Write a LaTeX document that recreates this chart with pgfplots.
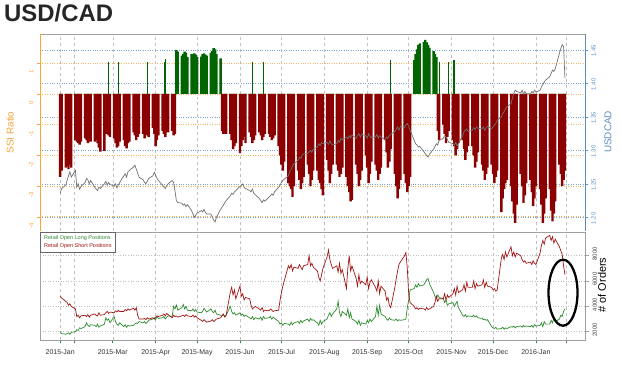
\documentclass[border=0pt]{standalone}
\usepackage{fontspec}
\setmainfont{Liberation Sans}
\usepackage{pgfplots}
\usepackage{pgfplotstable}
\pgfplotsset{compat=1.18}

\definecolor{ssired}{HTML}{8B0000}
\definecolor{ssigreen}{HTML}{006400}
\definecolor{ssiorange}{HTML}{F7A43A}
\definecolor{cadblue}{HTML}{5B8DC4}
\definecolor{shortred}{HTML}{A31515}
\definecolor{longgreen}{HTML}{2E8B2E}
\definecolor{gridgray}{HTML}{C0C0C0}
\definecolor{framegray}{HTML}{A0A0A0}
\definecolor{titlecol}{HTML}{262626}
\definecolor{cadline}{HTML}{707070}

% d = day (0 = 2015-01-01), r = SSI (short side), g = SSI (long side), u = USDCAD, l = long orders, s = short orders
\pgfplotstableread{
d r g u l s
21 -2.70 0 1.236 2000 4800
22 -2.50 0 1.243 1850 4660
25 -2.40 0 1.248 1800 4400
26 -2.35 0 1.255 1850 4300
27 -2.45 0 1.262 1900 4100
28 -2.30 0 1.268 1800 4200
29 -2.40 0 1.260 1950 4000
32 -1.50 0 1.270 2000 3800
33 -1.55 0 1.245 2150 3200
34 -1.60 0 1.250 2100 3300
35 -1.65 0 1.242 2300 3100
36 -1.55 0 1.246 2250 3250
39 -1.45 0 1.252 2400 3300
40 -1.50 0 1.258 2700 3200
41 -1.60 0 1.256 2500 3350
42 -1.45 0 1.250 2400 3150
43 -1.55 0 1.255 2550 3300
46 -1.55 0 1.245 2500 3400
47 -1.50 0 1.242 2400 3300
48 -1.60 0 1.240 2600 3250
49 -1.75 0 1.245 2350 3500
50 -1.88 0 1.243 2450 3300
53 -1.85 0 1.250 2600 3350
54 -1.30 0 1.254 3100 3500
55 -1.25 0 1.248 2900 3600
56 -1.35 0 1.252 3000 3450
57 -1.40 0 1.249 2700 3550
60 -1.45 0 1.247 3200 3500
61 -1.60 0 1.250 2800 3650
62 -1.75 0 1.244 2600 3550
63 -1.70 0 1.248 2500 3700
64 -1.55 0 1.252 2700 3600
67 -1.50 0 1.262 2400 3600
68 -1.70 0 1.265 2550 3750
69 -1.77 0 1.260 2350 3650
70 -1.60 0 1.268 2500 3800
71 -1.55 0 1.270 2450 3700
74 -1.25 0 1.275 2500 3850
75 -1.35 0 1.278 2600 3700
76 -1.50 0 1.272 2700 3900
77 -1.40 0 1.266 2650 3300
78 -1.30 0 1.260 2800 3000
81 -1.30 0 1.256 2700 3000
82 -1.45 0 1.252 2800 3050
83 -1.35 0 1.250 2650 2950
84 -1.20 0 1.254 2750 3100
85 -1.40 0 1.258 2900 3000
88 -1.10 0 1.262 3000 3100
89 -1.30 0 1.267 3100 3000
90 -1.70 0 1.263 2950 3150
91 -1.50 0 1.258 3200 3250
92 -1.35 0 1.255 3050 3200
95 -1.20 0 1.248 3100 3300
96 -1.30 0 1.245 3200 3400
97 -1.40 0 1.243 3000 3250
98 -1.10 0 1.247 3150 3450
99 -1.25 0 1.250 3250 3350
102 -1.20 0 1.255 3200 3100
103 -1.35 0 1.252 4000 3300
104 -1.30 0 1.240 3800 3200
105 0 1.43 1.225 4100 3250
106 0 1.38 1.222 3700 3150
109 0 1.25 1.221 3900 3250
110 0 1.30 1.218 4150 3300
111 0 1.38 1.220 3800 3200
112 0 1.35 1.216 4000 3350
113 0 1.20 1.219 3700 3250
116 0 1.30 1.210 3650 3200
117 0 1.25 1.205 3800 3300
118 0 1.32 1.200 3600 3150
119 0 1.28 1.203 3750 3250
120 0 1.20 1.206 3550 3100
123 0 1.22 1.210 3500 2900
124 0 1.30 1.208 3600 2800
125 0 1.32 1.212 3850 2950
126 0 1.28 1.207 3700 2850
127 0 1.25 1.205 3550 2750
130 0 1.35 1.205 3800 2850
131 0 1.40 1.200 3600 2950
132 0 1.49 1.196 3500 2800
133 0 1.45 1.193 3700 2900
134 0 1.30 1.200 3400 3000
137 0 1.16 1.212 3300 3100
138 -1.20 0 1.215 3250 3250
139 -1.30 0 1.218 3350 3400
140 -1.25 0 1.222 3200 3150
141 -1.30 0 1.225 3300 3300
144 -1.30 0 1.232 4000 5100
145 -1.50 0 1.236 3600 5500
146 -1.80 0 1.234 3400 4900
147 -1.70 0 1.238 3500 5300
148 -1.60 0 1.240 3300 4600
151 -1.93 0 1.246 3500 5600
152 -1.70 0 1.248 3300 4800
153 -1.50 0 1.250 3400 5000
154 -1.40 0 1.245 3200 4500
155 -1.60 0 1.243 3300 4700
158 -1.25 0 1.240 3100 4600
159 -1.40 0 1.238 3000 4100
160 -1.60 0 1.242 3200 3800
161 -1.50 0 1.236 2950 3900
162 -1.35 0 1.234 3100 4000
165 -1.25 0 1.228 3000 3800
166 -1.35 0 1.225 3150 3700
167 -1.50 0 1.222 2900 3900
168 -1.40 0 1.226 3200 3600
169 -1.30 0 1.224 3050 3700
172 -1.30 0 1.230 3100 3650
173 -1.40 0 1.232 3200 3800
174 -1.50 0 1.235 3000 3700
175 -1.45 0 1.233 3150 3600
176 -1.35 0 1.238 3050 3650
179 -1.70 0 1.245 2800 3700
180 -2.00 0 1.248 2600 4500
181 -2.30 0 1.252 2700 5100
182 -2.50 0 1.255 2500 5600
183 -2.20 0 1.257 2650 6000
186 -2.90 0 1.262 2600 7200
187 -3.00 0 1.268 2500 7000
188 -3.10 0 1.272 2750 7300
189 -3.35 0 1.276 2550 6800
190 -3.00 0 1.280 2700 7100
193 -2.50 0 1.285 2800 7000
194 -2.80 0 1.290 2650 7300
195 -3.10 0 1.288 2900 7100
196 -2.90 0 1.293 2700 6900
197 -2.70 0 1.295 2850 7200
200 -2.30 0 1.295 3000 7300
201 -2.60 0 1.298 2800 8000
202 -3.00 0 1.300 3050 7200
203 -2.80 0 1.297 2900 7400
204 -2.50 0 1.302 2950 7100
207 -2.50 0 1.305 2700 6800
208 -2.80 0 1.310 2500 6300
209 -2.90 0 1.307 2900 6000
210 -3.10 0 1.312 2600 6500
211 -3.30 0 1.310 2800 7000
214 -2.15 0 1.312 3000 7900
215 -2.50 0 1.309 3300 8450
216 -2.90 0 1.314 3500 7700
217 -2.60 0 1.310 3200 7300
218 -2.30 0 1.308 3400 7000
221 -2.30 0 1.310 3800 7200
222 -2.50 0 1.315 4400 6700
223 -2.70 0 1.312 3500 7400
224 -2.60 0 1.318 3200 6600
225 -2.40 0 1.316 3600 6900
228 -2.70 0 1.320 3300 5400
229 -3.00 0 1.317 3800 7000
230 -3.20 0 1.322 3100 8000
231 -3.50 0 1.319 3500 6800
232 -3.45 0 1.323 3000 7200
235 -2.30 0 1.318 2800 6200
236 -2.60 0 1.322 2600 5600
237 -3.00 0 1.325 2900 6500
238 -2.80 0 1.320 2500 5800
239 -2.50 0 1.324 2700 6000
242 -2.00 0 1.322 2600 5700
243 -2.40 0 1.318 2900 6300
244 -2.90 0 1.325 2700 5400
245 -2.60 0 1.321 3000 5900
246 -2.20 0 1.319 2800 6100
249 -2.30 0 1.320 3200 5500
250 -2.50 0 1.324 4000 5200
251 -2.80 0 1.318 3300 6000
252 -2.60 0 1.322 4100 5000
253 -2.40 0 1.320 3400 5600
256 -1.50 0 1.316 3200 5200
257 -1.90 0 1.320 3000 4500
258 -2.40 0 1.318 2900 4700
259 -2.20 0 1.322 3100 4100
260 -1.80 0 1.324 2950 3900
263 -2.60 0 1.328 2900 5500
264 -3.00 0 1.332 3000 6200
265 -3.40 0 1.335 2850 6800
266 -3.10 0 1.330 2950 7300
267 -2.80 0 1.336 2900 7500
270 -2.60 0 1.334 2950 8000
271 -2.90 0 1.338 3000 8250
272 -3.20 0 1.340 3900 7000
273 -3.00 0 1.336 4500 5000
274 -2.70 0 1.330 5300 4300
277 0 1.10 1.315 5400 4000
278 0 1.30 1.310 5700 3800
279 0 1.45 1.308 5500 3900
280 0 1.60 1.305 5800 3750
281 0 1.65 1.306 5600 3850
284 0 1.70 1.298 5700 3800
285 0 1.76 1.295 5900 3700
286 0 1.68 1.292 6100 3900
287 0 1.60 1.290 6200 3750
288 0 1.50 1.294 5800 3800
291 0 1.40 1.302 5100 4000
292 0 1.30 1.306 4800 4300
293 0 1.20 1.310 4600 4800
294 -1.20 0 1.308 4900 4400
295 -1.50 0 1.315 4700 4600
298 -1.00 0 1.318 4600 4600
299 -1.30 0 1.322 4300 5000
300 -1.60 0 1.320 4500 4500
301 -1.40 0 1.316 4100 4900
302 -1.20 0 1.312 4200 4700
305 -1.50 0 1.310 4300 5000
306 -1.70 0 1.308 4000 5400
307 -2.00 0 1.312 4200 4900
308 -1.80 0 1.307 4400 5600
309 -1.60 0 1.310 3900 5100
312 -1.50 0 1.322 3300 5300
313 -1.80 0 1.328 3200 5700
314 -2.15 0 1.330 3350 5200
315 -1.90 0 1.332 3150 5900
316 -1.70 0 1.328 3250 5500
319 -1.70 0 1.330 3200 5500
320 -2.00 0 1.334 3300 6000
321 -2.40 0 1.331 3150 5400
322 -2.20 0 1.335 3250 5800
323 -1.90 0 1.333 3100 5600
326 -2.30 0 1.332 3050 5700
327 -2.50 0 1.335 2950 6100
328 -2.80 0 1.330 3000 5500
329 -2.60 0 1.334 2900 5900
330 -2.40 0 1.336 2950 5600
333 -2.30 0 1.332 2400 5500
334 -2.60 0 1.335 2300 5300
335 -2.90 0 1.338 2250 5400
336 -2.70 0 1.340 2350 5200
337 -2.50 0 1.345 2200 5300
340 -3.85 0 1.350 2250 7800
341 -3.40 0 1.355 2350 8100
342 -3.10 0 1.358 2200 7700
343 -2.90 0 1.362 2300 8300
344 -2.80 0 1.365 2250 7900
347 -3.00 0 1.370 2400 8700
348 -3.50 0 1.378 2350 8000
349 -3.90 0 1.385 2450 8300
350 -4.20 0 1.390 2300 7900
351 -3.60 0 1.388 2400 8200
354 -2.60 0 1.386 2450 8000
355 -3.00 0 1.390 2350 7700
356 -3.55 0 1.384 2500 7500
357 -3.30 0 1.388 2400 7600
358 -2.90 0 1.385 2450 7400
361 -2.80 0 1.384 2400 7500
362 -3.20 0 1.388 2500 7300
363 -3.65 0 1.386 2350 7600
364 -3.40 0 1.390 2550 7400
365 -3.00 0 1.387 2450 7300
368 -3.10 0 1.390 2500 8200
369 -3.60 0 1.395 2700 8800
370 -4.20 0 1.398 2400 9200
371 -3.90 0 1.402 2800 8900
372 -3.40 0 1.405 2600 9400
375 -3.10 0 1.410 2600 9600
376 -3.80 0 1.415 2900 9200
377 -4.15 0 1.420 2700 9500
378 -3.90 0 1.418 3100 9000
379 -3.50 0 1.422 2800 9300
382 -2.30 0 1.445 3000 8700
383 -2.60 0 1.452 3300 8400
384 -3.00 0 1.458 3200 8100
385 -2.80 0 1.455 3600 7200
386 -2.50 0 1.408 3800 6500
}\data

\pgfplotstableread{
d v
56 1.03
63 1.05
84 1.03
96 1.05
97 1.15
160 1.05
168 1.05
260 1.10
295 1.05
302 1.05
305 1.10
306 1.10
}\spikes

\pgfplotsset{
  panel/.style={
    scale only axis, width=545bp,
    xmin=6.4, xmax=400.5,
    xtick={21,31,59,90,120,151,181,212,243,273,304,334,365,387},
    xmajorgrids,
  },
}

\begin{document}
\begin{tikzpicture}
\path[use as bounding box] (0,0) rectangle (624bp,369bp);
\node[anchor=north west, inner sep=0pt, font=\fontsize{24}{26}\selectfont\bfseries, text=titlecol] at (4bp,365bp) {USD/CAD};

% ---- top panel: SSI bars ----
\begin{axis}[panel,
  at={(40bp,138bp)}, anchor=south west, height=197bp,
  ymin=-4.463, ymax=1.954,
  axis line style={draw=none},
  xticklabels={}, xtick style={draw=none},
  every axis x grid/.style={draw=gridgray, dashed, line width=0.45pt},
  ytick={-4,-3,-2,-1,0,1}, yticklabels={-4,-3,-2,-1,0,1},
  ytick pos=left, ytick align=outside, major tick length=3bp,
  ytick style={ssiorange, line width=0.5pt},
  yticklabel style={rotate=90, anchor=south, font=\fontsize{6}{7}\selectfont, text=ssiorange, xshift=-9bp},
  ymajorgrids, every axis y grid/.style={draw=ssiorange!80, dotted, line width=0.6pt},
  extra y ticks={-4.016,-2.928,-1.837,-0.749,0.342,1.433},
  extra y tick labels={},
  extra y tick style={grid=major, every axis y grid/.style={draw=cadblue!80, dotted, line width=0.6pt}, major tick length=0pt},
  ylabel={SSI Ratio},
  ylabel style={at={(axis description cs:-0.055,0.5)}, anchor=center, font=\fontsize{10}{12}\selectfont, text=ssiorange},
]
\addplot[ybar, bar width=1.75, bar shift=0pt, fill=ssired, draw=none] table[x=d, y=r] {\data};
\addplot[ybar, bar width=1.75, bar shift=0pt, fill=ssigreen, draw=none] table[x=d, y=g] {\data};
\addplot[ycomb, ssigreen, line width=0.8pt] table[x=d, y=v] {\spikes};
\draw[framegray, line width=0.6pt] (rel axis cs:0,1) -- (rel axis cs:1,1);
\draw[framegray, line width=0.6pt] (rel axis cs:0,0) -- (rel axis cs:1,0);
\draw[ssiorange, line width=0.8pt] (rel axis cs:0,0) -- (rel axis cs:0,1);
\end{axis}

% ---- top panel: USDCAD line ----
\begin{axis}[
  scale only axis, width=545bp, height=197bp,
  at={(40bp,138bp)}, anchor=south west,
  xmin=6.4, xmax=400.5,
  ymin=1.1795, ymax=1.4739,
  axis x line=none, axis y line*=right,
  y axis line style={cadblue, line width=0.6pt},
  ytick={1.20,1.25,1.30,1.35,1.40,1.45},
  yticklabels={1.20,1.25,1.30,1.35,1.40,1.45},
  ytick align=outside, major tick length=3bp,
  ytick style={cadblue, line width=0.5pt},
  yticklabel style={rotate=90, anchor=north, font=\fontsize{6}{7}\selectfont, text=cadblue, xshift=-1bp},
  ylabel={USDCAD},
  ylabel style={at={(axis description cs:1.042,0.503)}, anchor=center, rotate=0, font=\fontsize{10}{12}\selectfont, text=cadblue},
]
\addplot[cadline, line width=0.7pt] table[x=d, y=u] {\data};
\end{axis}

% ---- bottom panel: orders ----
\begin{axis}[panel,
  at={(40bp,29bp)}, anchor=south west, height=108bp,
  ymin=1345, ymax=9871,
  axis line style={framegray, line width=0.6pt},
  xticklabels={2015-Jan,,2015-Mar,2015-Apr,2015-May,2015-Jun,2015-Jul,2015-Aug,2015-Sep,2015-Oct,2015-Nov,2015-Dec,2016-Jan,},
  xtick pos=left, xtick align=outside,
  xtick style={longgreen, line width=0.6pt},
  typeset ticklabels with strut,
  x tick label style={font=\fontsize{7}{8}\selectfont, text=black!80, yshift=-2bp},
  every axis grid/.style={},
  every major grid/.style={},
  every axis x grid/.style={draw=gridgray, dashed, line width=0.45pt},
  ytick={2000,4000,6000,8000}, yticklabels={2000,4000,6000,8000},
  ytick pos=right, yticklabel pos=right, ytick align=outside,
  ytick style={framegray, line width=0.5pt},
  yticklabel style={rotate=90, anchor=north, font=\fontsize{6}{7}\selectfont, text=black!75, xshift=2bp},
  major tick length=3.5bp,
  ymajorgrids, every axis y grid/.style={draw=gridgray, dotted, line width=0.6pt},
  ylabel={\# of Orders},
  ylabel style={at={(axis description cs:1.031,0.509)}, anchor=center, rotate=0, font=\fontsize{11}{13}\selectfont, text=black},
  legend style={at={(axis description cs:0,1)}, anchor=north west, draw=black!60, line width=0.5pt,
    font=\fontsize{5.5}{6.5}\selectfont, inner xsep=2pt, inner ysep=1.5pt, row sep=-1.5pt, cells={anchor=west}},
  legend image code/.code={},
]
\addplot[longgreen, line width=0.7pt] table[x=d, y=l] {\data};
\addlegendentry{\textcolor{longgreen}{Retail Open Long Positions}}
\addplot[shortred, line width=0.7pt] table[x=d, y=s] {\data};
\addlegendentry{\textcolor{shortred}{Retail Open Short Positions}}
\draw[black, line width=2.3pt] (axis cs:384.6,5079) ellipse [x radius=14.5bp, y radius=33bp];
\end{axis}
\end{tikzpicture}
\end{document}
